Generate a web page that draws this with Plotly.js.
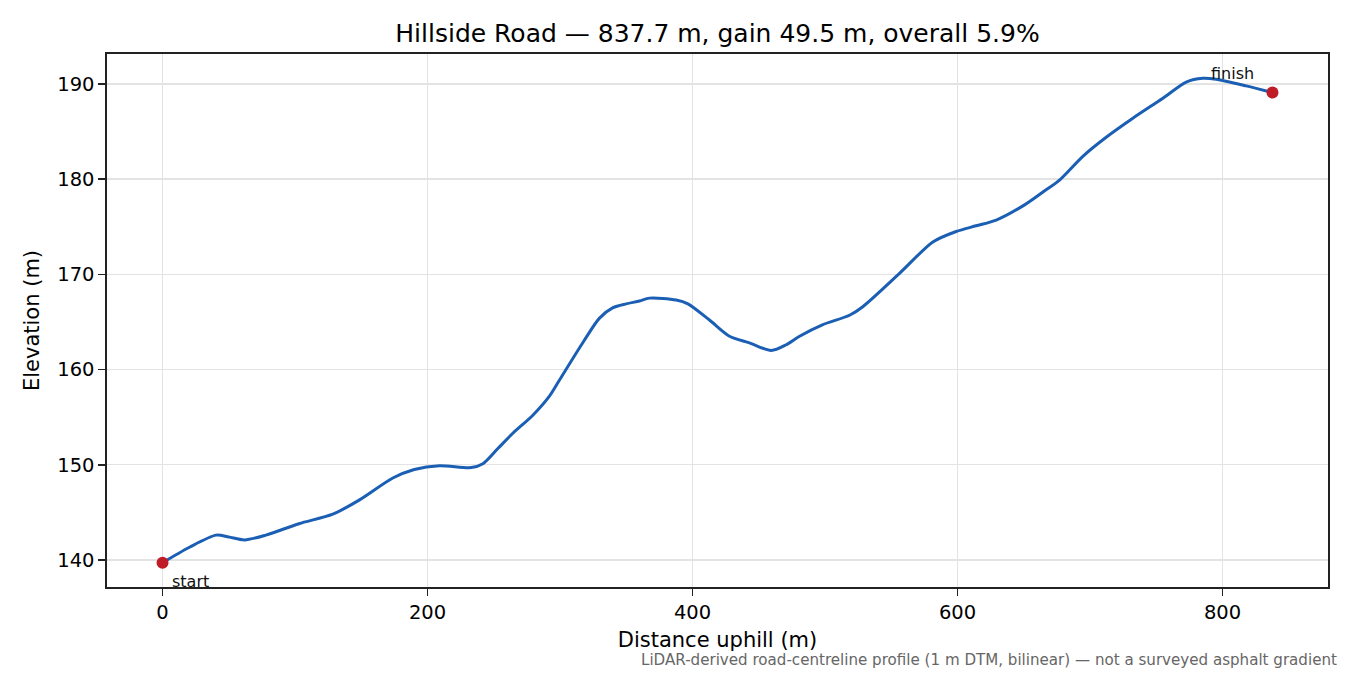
<!DOCTYPE html>
<html>
<head>
<meta charset="utf-8">
<script src="https://cdn.plot.ly/plotly-3.0.1.min.js"></script>
<style>html,body{margin:0;padding:0;background:#fff;}#chart{width:1350px;height:675px;}</style>
</head>
<body>
<div id="chart"></div>
<script>
// Distance along road (m)
const distance = [0, 20, 40.5, 50, 61.9, 78, 103, 128.5, 148.7, 173.8, 190, 209, 233, 241.8, 253.1, 264.4, 279.5, 292, 299.6, 318, 329.8, 340, 350, 360, 367.5, 387.7, 396.5, 412.8, 427.9, 443, 459.4, 470.7, 480.8, 498, 518.5, 528.5, 556.2, 581.4, 599, 614, 629.2, 650.6, 665, 677, 694.6, 712.2, 732.3, 755, 772.6, 785.1, 795.2, 817.9, 837.7];
// Elevation (m)
const elevation = [139.7, 141.3, 142.6, 142.4, 142.1, 142.6, 143.8, 144.8, 146.3, 148.6, 149.5, 149.9, 149.7, 150.1, 151.7, 153.3, 155.2, 157.2, 158.9, 163.0, 165.4, 166.5, 166.9, 167.2, 167.5, 167.3, 166.9, 165.2, 163.5, 162.8, 162.0, 162.6, 163.5, 164.7, 165.7, 166.6, 170.1, 173.4, 174.5, 175.1, 175.7, 177.3, 178.7, 179.9, 182.4, 184.4, 186.4, 188.5, 190.2, 190.6, 190.5, 189.8, 189.1];
const xTicks = [0, 200, 400, 600, 800];
const yTicks = [140, 150, 160, 170, 180, 190];
const endLabels = ["start", "finish"];
const titleText = "Hillside Road — 837.7 m, gain 49.5 m, overall 5.9%";
const xTitle = "Distance uphill (m)";
const yTitle = "Elevation (m)";
const footnote = "LiDAR-derived road-centreline profile (1 m DTM, bilinear) — not a surveyed asphalt gradient";

const n = distance.length;
const endX = [distance[0], distance[n - 1]];
const endY = [elevation[0], elevation[n - 1]];

const font = "DejaVu Sans, sans-serif";

const traces = [
  {
    x: distance, y: elevation, type: "scatter", mode: "lines",
    line: {color: "#1a5fb4", width: 3, shape: "spline", smoothing: 0.8},
    hoverinfo: "skip", showlegend: false
  },
  {
    x: endX, y: endY, type: "scatter", mode: "markers",
    marker: {color: "#c01c28", size: 12},
    showlegend: false
  }
];

const axisCommon = {
  showline: true, mirror: true, linecolor: "#222", linewidth: 1.6,
  ticks: "outside", ticklen: 7, tickwidth: 1.6, tickcolor: "#222",
  showgrid: true, gridcolor: "#e3e3e3", gridwidth: 1.5,
  zeroline: false,
  tickfont: {family: font, size: 19.5, color: "#000"}
};

const layout = {
  width: 1350, height: 675,
  paper_bgcolor: "#fff", plot_bgcolor: "#fff",
  margin: {l: 107, r: 22, t: 54, b: 88},
  font: {family: font, color: "#000"},
  title: {text: titleText, font: {family: font, size: 25, color: "#000"}, x: 0.5, xref: "paper", y: 0.951, yanchor: "middle"},
  xaxis: Object.assign({}, axisCommon, {
    range: [-41.9, 879.6], tickvals: xTicks, ticktext: xTicks.map(String),
    title: {text: xTitle, font: {family: font, size: 21, color: "#000"}, standoff: 9}
  }),
  yaxis: Object.assign({}, axisCommon, {
    range: [137.15, 193.15], tickvals: yTicks, ticktext: yTicks.map(String),
    title: {text: yTitle, font: {family: font, size: 21, color: "#000"}, standoff: 12}
  }),
  annotations: [
    {x: endX[0], y: endY[0], xref: "x", yref: "y", text: endLabels[0], showarrow: false,
     xanchor: "left", yanchor: "middle", xshift: 7, yshift: -19,
     font: {family: font, size: 16, color: "#111"}},
    {x: endX[1], y: endY[1], xref: "x", yref: "y", text: endLabels[1], showarrow: false,
     xanchor: "right", yanchor: "middle", xshift: -16, yshift: 19,
     font: {family: font, size: 16, color: "#111"}},
    {x: 1, y: 0, xref: "paper", yref: "paper", text: footnote, showarrow: false,
     xanchor: "right", yanchor: "middle", xshift: 11, yshift: -73,
     font: {family: font, size: 15.1, color: "#666"}}
  ]
};

Plotly.newPlot("chart", traces, layout, {displayModeBar: false, staticPlot: true});
</script>
</body>
</html>
